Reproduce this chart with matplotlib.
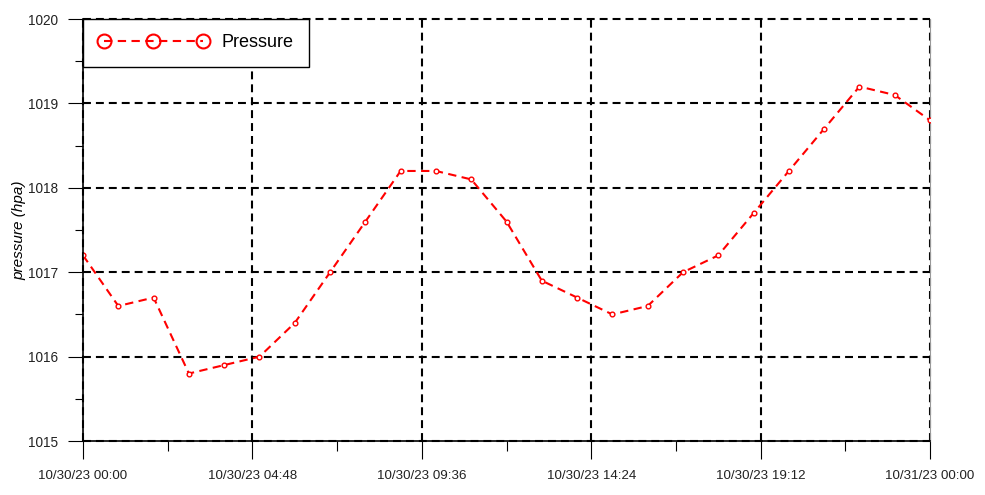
#!/usr/bin/env python3
"""Hourly pressure trace, 10/30/23 00:00 - 10/31/23 00:00."""

from datetime import timedelta

import matplotlib
matplotlib.use("Agg")
import matplotlib.dates as mdates
import matplotlib.pyplot as plt
import matplotlib.ticker as mticker
import pandas as pd
from matplotlib.lines import Line2D

# ---------------------------------------------------------------------------
# Data
# ---------------------------------------------------------------------------
start = "2023-10-30 00:00"
n_hours = 25
pressure_hpa = [
    1017.2, 1016.6, 1016.7, 1015.8, 1015.9, 1016.0, 1016.4, 1017.0,
    1017.6, 1018.2, 1018.2, 1018.1, 1017.6, 1016.9, 1016.7, 1016.5,
    1016.6, 1017.0, 1017.2, 1017.7, 1018.2, 1018.7, 1019.2, 1019.1,
    1018.8,
]
times = pd.date_range(start, periods=n_hours, freq="h")
series_label = "Pressure"
y_label = "pressure (hpa)"
y_range = (1015, 1020)

RED = "#ff0000"

plt.rcParams["font.family"] = ["Liberation Sans", "DejaVu Sans"]


def _fmt_date(x, pos=None):
    # round to the nearest minute so 4.8 h steps print as 04:48, not 04:47
    dt = mdates.num2date(x) + timedelta(seconds=30)
    return dt.strftime("%m/%d/%y %H:%M")


fig = plt.figure(figsize=(9.85, 4.95), dpi=100)
ax = fig.add_axes([0.0843, 0.109, 0.8599, 0.8525])

ax.plot(times, pressure_hpa, color=RED, linewidth=1.5, dashes=(4, 2.6),
        marker="o", markersize=3.4, markerfacecolor="white",
        markeredgecolor=RED, markeredgewidth=1.0, zorder=3)

ax.set_xlim(times[0], times[-1])
ax.set_ylim(*y_range)

# x axis: majors every 4.8 h (0.2 day), minors halfway
ax.xaxis.set_major_locator(mticker.MultipleLocator(0.2))
ax.xaxis.set_minor_locator(mticker.MultipleLocator(0.1))
ax.xaxis.set_major_formatter(mticker.FuncFormatter(_fmt_date))
ax.yaxis.set_major_locator(mticker.MultipleLocator(1))
ax.yaxis.set_minor_locator(mticker.MultipleLocator(0.5))

ax.tick_params(axis="x", which="major", direction="out", length=13,
               width=0.8, pad=8, labelsize=9.6, colors="black")
ax.tick_params(axis="x", which="minor", direction="out", length=7, width=0.8)
ax.tick_params(axis="y", which="major", direction="out", length=11,
               width=0.8, pad=7, labelsize=9.8, colors="black")
ax.tick_params(axis="y", which="minor", direction="out", length=6, width=0.8)
for lab in ax.get_yticklabels() + ax.get_xticklabels():
    lab.set_color("#222222")

ax.grid(True, which="major", color="black", linewidth=1.5,
        linestyle=(0, (3.8, 2.4)), zorder=1)
for gl in ax.get_xgridlines() + ax.get_ygridlines():
    gl.set_clip_on(False)

ax.spines["top"].set_visible(False)
ax.spines["right"].set_color("#999999")
ax.spines["right"].set_linewidth(0.8)
ax.spines["left"].set_linewidth(1.2)
ax.spines["bottom"].set_linewidth(1.2)
ax.spines["left"].set_zorder(4)
ax.spines["bottom"].set_zorder(4)

ax.set_ylabel(y_label, fontsize=11, style="italic", labelpad=1)

handle = Line2D([], [], color=RED, linewidth=1.5, dashes=(4, 2.6),
                marker="o", markersize=10, markerfacecolor="none",
                markeredgecolor=RED, markeredgewidth=1.5)
leg = ax.legend([handle], [series_label], loc="upper left", numpoints=3,
                handlelength=6.1, handletextpad=0.7, borderaxespad=0,
                borderpad=0.85, fancybox=False, framealpha=1,
                edgecolor="black", prop={"size": 13})
leg.get_frame().set_linewidth(1.0)
leg.set_zorder(5)

fig.savefig("out.png", dpi=100, facecolor="white")
